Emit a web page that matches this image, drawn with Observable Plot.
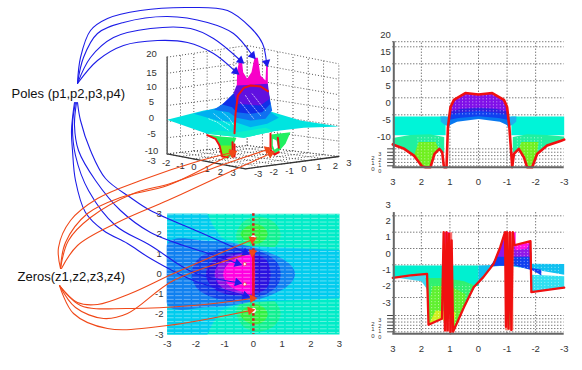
<!DOCTYPE html>
<html><head><meta charset="utf-8">
<script src="https://cdn.jsdelivr.net/npm/d3@7"></script>
<script src="https://cdn.jsdelivr.net/npm/@observablehq/plot@0.6"></script>
<style>
html,body{margin:0;padding:0;background:#fff}
#chart{position:relative;width:582px;height:370px;overflow:hidden}
#chart svg{position:absolute;max-width:none}
</style></head><body><div id="chart"></div>
<script>
const FONT = "'Liberation Sans',Arial,sans-serif";
// ---------- annotation curves (page pixels)
const polesLabel = "Poles (p1,p2,p3,p4)";
const zerosLabel = "Zeros(z1,z2,z3,z4)";
const poleCurvesUp = [
 [[77,83],[80,57],[90,30],[107,18],[140,10],[187,7],[227,10],[250,27],[262,43],[266,62]],
 [[77,83],[83,57],[97,33],[123,22],[167,16],[207,22],[233,33],[252,55]],
 [[77,83],[90,57],[113,37],[150,28],[190,28],[213,38],[240,60]],
 [[77,83],[97,60],[123,45],[157,40],[187,42],[213,53],[235,71]]
];
const poleCurvesDown = [
 [[77,102],[80,120],[90,150],[105,178],[130,197],[150,210],[200,232],[245,252]],
 [[76,102],[74,125],[78,150],[95,180],[120,210],[150,232],[183,245],[208,253],[237,263]],
 [[75,102],[72,125],[75,155],[88,190],[115,225],[150,245],[193,272],[237,282]],
 [[74,102],[71,130],[72,150],[75,180],[85,212],[103,230],[127,243],[150,258],[193,280],[245,295]]
];
const zeroCurves = [
 [[60,268],[58,247],[70,220],[97,198],[140,180],[200,160],[232,152]],
 [[60,268],[65,242],[87,213],[120,197],[167,185],[213,163],[232,153]],
 [[60,268],[68,240],[90,217],[133,193],[170,183],[220,165],[267,149]],
 [[61,268],[77,245],[117,222],[167,200],[217,177],[270,153]],
 [[59,285],[77,302],[97,304],[130,293],[173,273],[252,239]],
 [[59,285],[80,305],[127,308],[193,305],[252,298]],
 [[59,285],[75,307],[103,318],[127,313],[173,280],[252,252]],
 [[59,285],[73,313],[107,328],[167,325],[250,310]]
];
const labelRows = [{t:polesLabel,x:11,y:93},{t:zerosLabel,x:17,y:276}];

// ---------- 3D panel (surface drawn in picture units of that panel)
const zLabels = [[20,3,70],[15,3,128],[10,3,168],[5,3,215],[0,3,263],[-5,3,311],[-10,3,360],[-3,3,390]];
const floorLabelsA = [[-2,47,397],[-1,90,405],[0,130,408],[1,170,415],[2,210,423],[3,248,428]];
const floorLabelsB = [[-3,323,430],[-2,370,425],[-1,417,420],[0,460,415],[1,505,410],[2,555,405],[3,595,398]];
const wallA = [50,370], wallD = [290,345], wallC = [565,378], wallB = [285,415];
const topA = [50,80], topD = [290,45], topC = [565,100];
const wallSteps = [0,1,2,3,4,5,6];
const surfBase = [[50,268],[160,240],[255,228],[350,240],[450,270],[565,288],[460,292],[370,302],[280,322],[170,310]];
const surfFront = [[170,310],[280,322],[370,302],[345,292],[260,305],[200,300]];
const surfSky = [[130,250],[215,228],[260,225],[350,238],[385,262],[350,280],[300,290],[255,275],[200,270]];
const surfBlue = [[190,238],[235,208],[262,190],[355,190],[365,240],[345,265],[300,270],[258,262],[235,245]];
const surfDeep = [[215,222],[248,190],[262,175],[352,175],[360,220],[335,245],[300,250],[258,245],[245,230]];
const surfPurple = [[250,185],[258,165],[352,160],[358,205],[330,225],[258,220]];
const surfMagenta = [[258,200],[260,120],[267,88],[274,88],[278,125],[290,145],[303,125],[312,82],[322,82],[330,135],[345,150],[347,105],[352,105],[352,190],[300,172],[262,190]];
const wellLeft = [[172,312],[200,330],[215,375],[230,385],[248,372],[250,340],[258,322],[210,318]];
const wellLeftLime = [[205,345],[245,345],[240,370],[225,385],[215,375]];
const wellRight = [[362,312],[420,305],[405,340],[385,362],[372,368],[362,350]];
const wellRightHole = [[367,325],[378,330],[383,350],[372,358],[367,345]];
const surfRed = [[[252,308],[255,250],[262,195],[280,172],[300,165],[330,168],[352,182]],
 [[170,314],[195,325],[207,345],[215,378],[232,380]],[[246,335],[247,378]],[[252,342],[252,378]],
 [[360,310],[360,358],[372,372],[385,365]],[[382,322],[385,352]]];
const surfMesh = [[[175,265],[200,275],[235,300]],[[190,250],[215,270],[240,285]],[[215,245],[235,262],[250,285]],
 [[270,215],[290,240],[310,265]],[[285,195],[305,225],[330,255]],[[305,190],[325,215],[345,240]]];

// ---------- map of the plane
const axisTicks = [-3,-2,-1,0,1,2,3];
const mapBase = [[-3,3],[3,3],[3,-3],[-3,-3]];
const mapSky = [[-3,3],[-1.6,3],[-1.4,2.4],[-1.1,1.8],[-.3,1.4],[.6,1.35],[3,1.2],[3,-1.2],[.6,-1.35],[-.3,-1.4],[-1.1,-1.8],[-1.4,-2.4],[-1.6,-3],[-3,-3]];
const greenOuterTop = [[-.6,1.9],[-.35,2.6],[.15,2.85],[.7,2.6],[.95,1.95],[.7,1.3],[.15,1.15],[-.35,1.35]];
const greenInnerTop = [[-.45,2],[-.25,2.35],[.05,2.5],[.35,2.35],[.5,2],[.35,1.65],[.05,1.5],[-.25,1.65]];
const greenOuterBottom = [[-.6,-1.9],[-.35,-2.6],[.15,-2.85],[.7,-2.6],[.95,-1.95],[.7,-1.3],[.15,-1.15],[-.35,-1.35]];
const greenInnerBottom = [[-.45,-2],[-.25,-2.35],[.05,-2.5],[.35,-2.35],[.5,-2],[.35,-1.65],[.05,-1.5],[-.25,-1.65]];
const mapMid = [[-3,1.5],[-1.6,1.65],[-.5,1.5],[.3,1.2],[.9,.85],[1.3,.45],[1.45,0],[1.3,-.45],[.9,-.85],[.3,-1.2],[-.5,-1.5],[-1.6,-1.65],[-3,-1.5]];
const mapBlue = [[-2.15,0],[-1.85,.85],[-1,1.3],[-.2,1.25],[.5,.95],[.9,.4],[.9,-.4],[.5,-.95],[-.2,-1.25],[-1,-1.3],[-1.85,-.85]];
const mapDeep = [[-1.65,0],[-1.35,.75],[-.7,1.05],[0,1],[.45,.7],[.6,0],[.45,-.7],[0,-1],[-.7,-1.05],[-1.35,-.75]];
const mapPurple = [[-1.35,0],[-1.1,.65],[-.55,.98],[0,.95],[0,-.95],[-.55,-.98],[-1.1,-.65]];
const mapMagenta = [[-1.05,0],[-.85,.55],[-.45,.85],[0,.85],[0,-.85],[-.45,-.85],[-.85,-.55]];
const speckleRows = d3.range(-2.9,3,.183);
const mapZeros = [[0,1.8],[0,-1.8]], mapPoles = [[-.3,.5],[-.3,-.5]];

// ---------- magnitude panel
const freq = [3,2.6,2.26,1.97,1.85,1.68,1.54,1.37,1.27,1.21,1.12,1.07,.98,.86,.46,0,-.48,-.89,-1,-1.08,-1.18,-1.24,-1.41,-1.59,-1.7,-1.88,-2.05,-2.4,-2.87,-3];
const magnitude = [-13.7,-15,-17,-20.2,-20.4,-20.4,-16.5,-15,-16,-20.4,-20.4,-8.6,-2.7,-.6,1.4,1,1.4,-.6,-2.7,-8.6,-20.4,-16.5,-15,-17.5,-20.4,-20.4,-16.5,-14,-12.7,-12.3];
const magTicks = [20,15,10,5,0,-5,-10], magGrid = [15,10,5,0,-5], magLadder = [-15,-16,-17,-18,-19,-20];
const ladderLeft = ["2","1","0"], ladderRight = ["3","2","1","0"];
const magLadderLeftAt = [-17.6,-19.3,-21], magLadderRightAt = [-16.7,-18.3,-19.9,-21.5];
const gridFreq = [2,1,0,-1,-2];
const tickFreq = [3,2,1,0,-1,-2,-3];
const cyanL = [[3,-5.5],[1.15,-5.5],[1.15,-11],[3,-11]], cyanR = [[-3,-5.5],[-1.15,-5.5],[-1.15,-11],[-3,-11]];
const flareL = [[1.33,-5.5],[1.32,-7],[1.18,-8],[1,-8.5],[1,-5.5]], flareR = [[-1.33,-5.5],[-1.32,-7],[-1.18,-8],[-1,-8.5],[-1,-5.5]];
const magSky = [[1.05,-5],[1.05,-8.2],[.75,-7],[0,-6.2],[-.75,-7],[-1.05,-8.2],[-1.05,-5]];
const magBlue = [[1.02,-3],[1.05,-6.5],[.7,-5.9],[0,-5.4],[-.7,-5.9],[-1.05,-6.5],[-1.02,-3]];
const magDeep = [[1,-2.7],[1.02,-5],[.6,-4.3],[0,-3.9],[-.6,-4.3],[-1.02,-5],[-1,-2.7]];
const magPurple = [[1,-2.7],[.86,-.6],[.46,1.4],[0,1],[-.46,1.4],[-.86,-.6],[-1,-2.7],[-1.02,-4],[-.6,-3.2],[0,-2.9],[.6,-3.2],[1.02,-4]];
const magGreenL = [[3,-13.7],[3,-11.8],[2.4,-10.9],[1.7,-10.7],[1.2,-11.5],[1.2,-16],[1.27,-16],[1.37,-15],[1.54,-16.5],[1.68,-20.4],[1.97,-20.2],[2.26,-17],[2.6,-15]];
const magLimeL = [[2.1,-13],[1.5,-13],[1.4,-14.9],[1.54,-16.5],[1.68,-20.4],[1.97,-20.2],[2.26,-17]];
const magGreenR = [[-3,-12.3],[-3,-11.4],[-2.4,-10.9],[-1.7,-10.7],[-1.2,-11.5],[-1.2,-16],[-1.27,-16],[-1.41,-15],[-1.59,-17.5],[-1.7,-20.4],[-1.88,-20.4],[-2.05,-16.5],[-2.4,-14]];
const magLimeR = [[-2.1,-13],[-1.5,-13],[-1.41,-15],[-1.59,-17.5],[-1.7,-20.4],[-1.88,-20.4],[-2.05,-16.5]];
const magSpeckleCols = d3.range(-2.8,2.9,.12);

// ---------- phase panel
const phaseFreq = [3,2.38,1.8,1.75,1.28,1.22,1.17,1.12,1.08,1.03,.98,.94,.89,.51,.17,-.17,-.53,-.76,-.93,-.96,-1,-1.05,-1.1,-1.15,-1.2,-1.25,-1.82,-1.85,-2.86,-3];
const phase = [-1.8,-1.65,-1.55,-4.67,-4.3,1,-5,1,-5,.9,-5.2,.5,-5.1,-3.6,-2.37,-1.75,-.94,.08,1,-4.8,1,-4.9,1,-5,1,.2,.45,-2.67,-2.43,-2.4];
const phaseTicks = [3,2,1,0,-1,-2,-3], phaseGrid = [2,1,0,-1,-2,-3], phaseLadder = [-4.1,-4.3,-4.5,-4.7,-4.9,-5.1];
const phLadderLeftAt = [-4.6,-4.96,-5.33], phLadderRightAt = [-4.41,-4.75,-5.08,-5.42];
const phTeal = [[3,-1.8],[3,-1.04],[0,-1.04],[0,-2.3],[1.8,-2.3],[1.8,-1.55]];
const phPale = [[1.8,-1.55],[2.8,-1.8],[2,-2],[1.8,-2.5]];
const phGreen = [[1.86,-1.8],[1.2,-1.8],[.5,-2],[.1,-2.3],[.51,-3.6],[.89,-5.1],[1.28,-4.3],[1.75,-4.67],[1.82,-2.2]];
const phLime = [[1.6,-2.3],[1,-2.3],[.45,-2.8],[.51,-3.6],[.89,-5.1],[1.28,-4.3],[1.75,-4.67],[1.7,-3]];
const phYellow = [[1.5,-3.8],[.8,-3.9],[.89,-5.1],[1.28,-4.3],[1.75,-4.67]];
const phSky = [[0,-1.04],[-1.8,-.93],[-3,-.95],[-3,-1.6],[-2,-1.3],[-1,-1.04],[-.5,-1.1],[-.17,-1.75],[0,-2.2]];
const phBlue = [[-.4,-1.1],[-.76,-.2],[-1.85,-.2],[-1.85,-1.2],[-2.2,-1.3],[-2.2,-1.65],[-1.9,-1.35],[-1.3,-1.05],[-.7,-1.05]];
const phPurple = [[-.76,.08],[-.93,1],[-1.2,1],[-1.25,.2],[-1.82,.45],[-1.85,-.5],[-1.2,-.5],[-.6,-.5]];
const phMagentaA = [[-.85,.5],[-.93,1],[-1.3,1],[-1.3,.2]], phMagentaB = [[-1.25,.2],[-1.82,.45],[-1.7,0],[-1.3,-.1]];
const phPaleR = [[-1.87,-1.6],[-3,-1.7],[-3,-2.4],[-2.86,-2.43],[-1.85,-2.67]];
const colLeft = [[1.22,1],[.92,1],[.92,-5.1],[1.22,-5.1]], colRight = [[-.93,1],[-1.22,1],[-1.22,-5],[-.93,-5]];
const colLeftTop = [[1.18,1],[1.02,1],[1.02,.3],[1.18,.3]], colRightBit = [[-1.05,-3.4],[-1.15,-3.4],[-1.15,-4.7],[-1.05,-4.7]];

const poly = (pts, fill, opts={}) => Plot.line(pts,{x:d=>d[0],y:d=>d[1],fill,stroke:"none",...opts});
const path = (pts, stroke, strokeWidth, opts={}) => Plot.line(pts,{x:d=>d[0],y:d=>d[1],stroke,strokeWidth,...opts});
const styleBase = {background:"transparent",fontFamily:FONT,fontSize:"9.5px",color:"#333"};
const root = document.getElementById("chart");
function place(svg,left,top){svg.style.left=left+"px";svg.style.top=top+"px";root.appendChild(svg);}
const ladderMarks = (ticks,leftAt,rightAt)=>[
  Plot.link(ticks,{x1:()=>3.2,x2:()=>3,y1:d=>d,y2:d=>d,stroke:"#444"}),
  Plot.text(leftAt,{x:()=>3,y:d=>d,dx:-20,text:(d,i)=>ladderLeft[i],fill:"#333",fontSize:6}),
  Plot.text(rightAt,{x:()=>3,y:d=>d,dx:-13,text:(d,i)=>ladderRight[i],fill:"#333",fontSize:5.5})
];
const blobOpts = {curve:"cardinal-closed",clip:true};

// ---- map of the plane
place(Plot.plot({width:220,height:150,marginLeft:36.7,marginRight:11,marginTop:8.3,marginBottom:21,
 style:styleBase,
 x:{domain:[-3,3],axis:null},y:{domain:[-3,3],axis:null},
 marks:[
  poly(mapBase,"#00ecc8"),
  poly(greenOuterTop,"#10f090",blobOpts),poly(greenOuterBottom,"#10f090",blobOpts),
  poly(greenInnerTop,"#30f040",blobOpts),poly(greenInnerBottom,"#30f040",blobOpts),
  poly(mapSky,"#00ccee"),
  poly(mapMid,"#0f80f0",blobOpts),
  poly(mapBlue,"#1040e8",blobOpts),
  poly(mapDeep,"#2a10e0",blobOpts),
  poly(mapPurple,"#8810e4",blobOpts),
  poly(mapMagenta,"#ff00e0",blobOpts),
  Plot.ruleY(speckleRows,{stroke:"#fff",strokeOpacity:.4,strokeWidth:1,strokeDasharray:"7 1.5"}),
  Plot.ruleX([0],{stroke:"#d81818",strokeWidth:2.5,strokeDasharray:"2.5 2.5"}),
  Plot.ruleX([0],{y1:-1.2,y2:1.2,stroke:"#f01030",strokeWidth:2.5}),
  Plot.dot(mapZeros,{x:d=>d[0],y:d=>d[1],r:2.6,fill:"#fff"}),
  Plot.dot(mapZeros,{x:d=>d[0],y:d=>d[1],r:.8,fill:"#333"}),
  Plot.dot(mapPoles,{x:d=>d[0],y:d=>d[1],r:1.6,fill:"#fff",stroke:"#f02020",strokeWidth:.6}),
  Plot.text(axisTicks,{x:d=>d,frameAnchor:"bottom",lineAnchor:"middle",dy:9,text:d=>String(d),fill:"#333"}),
  Plot.text(axisTicks,{y:d=>d,x:()=>-3,dx:-8,text:d=>String(d),fill:"#333"})
 ]}),130,205);

// ---- magnitude
const panelX = {domain:[3,-3],axis:null};
place(Plot.plot({width:225,height:176,marginLeft:42.3,marginRight:11.3,marginTop:14.3,marginBottom:24.3,
 style:styleBase,x:panelX,y:{domain:[-20.4,20],axis:null},
 marks:[
  Plot.ruleY(magGrid,{stroke:"#444",strokeDasharray:"1 2"}),
  Plot.ruleY(magLadder,{stroke:"#444",strokeDasharray:"1 2"}),
  Plot.ruleX(gridFreq,{y1:-20.4,y2:16.5,stroke:"#444",strokeDasharray:"1 2"}),
  Plot.ruleY([16.5],{stroke:"#444",strokeDasharray:"1 2"}),
  poly(cyanL,"#00f4d8"),poly(cyanR,"#00f4d8"),
  poly(flareL,"#20b0f0"),poly(flareR,"#20b0f0"),
  poly(magGreenL,"#20f0a0"),poly(magGreenR,"#20f0a0"),
  poly(magLimeL,"#70f020"),poly(magLimeR,"#70f020"),
  poly(magSky,"#0878f0"),poly(magBlue,"#1040f0"),poly(magDeep,"#3020e0"),poly(magPurple,"#8010e8"),
  Plot.ruleX(magSpeckleCols.filter(d=>Math.abs(d)<.95),{y1:-5,y2:1,stroke:"#fff",strokeOpacity:.6,strokeDasharray:"1 2"}),
  Plot.ruleX(magSpeckleCols.filter(d=>Math.abs(d)>1.35&&Math.abs(d)<2.2),{y1:-20,y2:-11.5,stroke:"#fff",strokeOpacity:.6,strokeDasharray:"1 2"}),
  Plot.line(freq,{x:d=>d,y:(d,i)=>magnitude[i],stroke:"#f01010",strokeWidth:2.6}),
  Plot.ruleX([3],{y1:-20.4,y2:16.5,stroke:"#666",strokeWidth:2,dx:1}),
  Plot.ruleY([-20.4],{stroke:"#666",strokeWidth:2}),
  ...ladderMarks(magLadder,magLadderLeftAt,magLadderRightAt),
  Plot.text(magTicks,{x:()=>3,y:d=>d,dx:-2,dy:5,textAnchor:"end",text:d=>String(d),fill:"#333"}),
  Plot.text(tickFreq,{x:d=>d,frameAnchor:"bottom",lineAnchor:"middle",dy:15,text:d=>String(d),fill:"#333"})
 ]}),350,15);

// ---- phase
place(Plot.plot({width:225,height:175,marginLeft:42.3,marginRight:11.3,marginTop:14,marginBottom:26.7,
 style:styleBase,x:panelX,y:{domain:[-5.22,3],axis:null},
 marks:[
  Plot.ruleY(phaseGrid,{stroke:"#444",strokeDasharray:"1 2"}),
  Plot.ruleY(phaseLadder,{stroke:"#444",strokeDasharray:"1 2"}),
  Plot.ruleX(gridFreq,{y1:-5.22,y2:2.2,stroke:"#444",strokeDasharray:"1 2"}),
  poly(phTeal,"#00f0d0"),poly(phPale,"#40d8f0"),poly(phGreen,"#30f070"),poly(phLime,"#60f030"),poly(phYellow,"#d0f020"),
  poly(phSky,"#10c0f0"),poly(phPaleR,"#30e0f0"),poly(phBlue,"#1040f0"),poly(phPurple,"#9018e8"),
  poly(phMagentaA,"#ff10e0"),poly(phMagentaB,"#ff10e0"),
  poly(colLeft,"#f87070"),poly(colRight,"#f8907c"),poly(colLeftTop,"#ff20d0"),poly(colRightBit,"#70e040"),
  Plot.ruleX(magSpeckleCols.filter(d=>d>.3&&d<1.7),{y1:-4.6,y2:-2.2,stroke:"#fff",strokeOpacity:.6,strokeDasharray:"1 2"}),
  Plot.ruleX(magSpeckleCols.filter(d=>d<-1.2&&d>-2.9),{y1:-2.5,y2:.3,stroke:"#fff",strokeOpacity:.55,strokeDasharray:"1 2"}),
  Plot.line(phaseFreq,{x:d=>d,y:(d,i)=>phase[i],stroke:"#f01010",strokeWidth:2.3}),
  Plot.ruleX([3],{y1:-5.22,y2:2.2,stroke:"#666",strokeWidth:2,dx:1}),
  Plot.ruleY([-5.22],{stroke:"#666",strokeWidth:2}),
  ...ladderMarks(phaseLadder,phLadderLeftAt,phLadderRightAt),
  Plot.text(phaseTicks,{x:()=>3,y:d=>d,dx:-2,dy:5,textAnchor:"end",text:d=>String(d),fill:"#333"}),
  Plot.text(tickFreq,{x:d=>d,frameAnchor:"bottom",lineAnchor:"middle",dy:15,text:d=>String(d),fill:"#333"})
 ]}),350,185);

// ---- 3D surface
const mix=(a,b,t)=>[a[0]+(b[0]-a[0])*t,a[1]+(b[1]-a[1])*t];
const seg=(a,b)=>({x1:a[0],y1:a[1],x2:b[0],y2:b[1]});
const wallLines = wallSteps.flatMap(k=>{const t=k/6;return[
  seg(mix(topA,wallA,t),mix(topD,wallD,t)),seg(mix(topD,wallD,t),mix(topC,wallC,t)),
  seg(mix(wallA,wallD,t),mix(topA,topD,t)),seg(mix(wallD,wallC,t),mix(topD,topC,t)),
  seg(mix(wallA,wallD,t),mix(wallB,wallC,t)),seg(mix(wallA,wallB,t),mix(wallD,wallC,t))];});
place(Plot.plot({width:220,height:190,marginLeft:0,marginRight:0,marginTop:0,marginBottom:0,
 style:styleBase,x:{domain:[-30,630],axis:null},y:{domain:[540,-30],axis:null},
 marks:[
  Plot.link(wallLines,{x1:"x1",y1:"y1",x2:"x2",y2:"y2",stroke:"#555",strokeDasharray:"1 2"}),
  path([wallA,wallB,wallC],"#333",1.3),
  path([[50,80],wallA],"#666",1.6),
  poly(surfBase,"#00e4e0"),poly(surfFront,"#10f0c8"),
  poly(wellLeft,"#20f060"),poly(wellLeftLime,"#70f020"),
  poly(wellRight,"#20f060"),poly(wellRightHole,"#fff"),
  poly(surfSky,"#00b0f0"),poly(surfBlue,"#1070f0"),poly(surfDeep,"#1030e8"),
  poly(surfMagenta,"#f800c8"),poly(surfPurple,"#6010e0"),
  ...surfMesh.map(m=>path(m,"#fff",1,{strokeDasharray:"1.5 1.5",strokeOpacity:.6})),
  ...surfRed.map(m=>path(m,"#f01010",2)),
  Plot.text(zLabels,{x:d=>d[1],y:d=>d[2],text:d=>String(d[0]),fill:"#333",textAnchor:"middle"}),
  Plot.text(floorLabelsA,{x:d=>d[1],y:d=>d[2],text:d=>String(d[0]),fill:"#333"}),
  Plot.text(floorLabelsB,{x:d=>d[1],y:d=>d[2],text:d=>String(d[0]),fill:"#333"})
 ]}),140,20);

// ---- annotations
const tip = c=>{const a=c[c.length-2],b=c[c.length-1];return{x:b[0],y:b[1],a:Math.atan2(b[0]-a[0],a[1]-b[1])*180/Math.PI};};
const blue="#1c1ce8", red="#f04818";
const blueCurves=[...poleCurvesUp,...poleCurvesDown];
place(Plot.plot({width:582,height:370,marginLeft:0,marginRight:0,marginTop:0,marginBottom:0,
 style:styleBase,x:{domain:[0,582],axis:null},y:{domain:[370,0],axis:null},
 marks:[
  ...blueCurves.map(c=>path(c,blue,1.1,{curve:"catmull-rom"})),
  ...zeroCurves.map(c=>path(c,red,1.1,{curve:"catmull-rom"})),
  Plot.dot(blueCurves.map(tip),{x:"x",y:"y",rotate:"a",symbol:"triangle",r:3.2,fill:blue}),
  Plot.dot(zeroCurves.map(tip),{x:"x",y:"y",rotate:"a",symbol:"triangle",r:3.2,fill:red}),
  Plot.text(labelRows,{x:"x",y:"y",text:"t",textAnchor:"start",fontSize:13,fill:"#111"})
 ]}),0,0);
</script></body></html>
